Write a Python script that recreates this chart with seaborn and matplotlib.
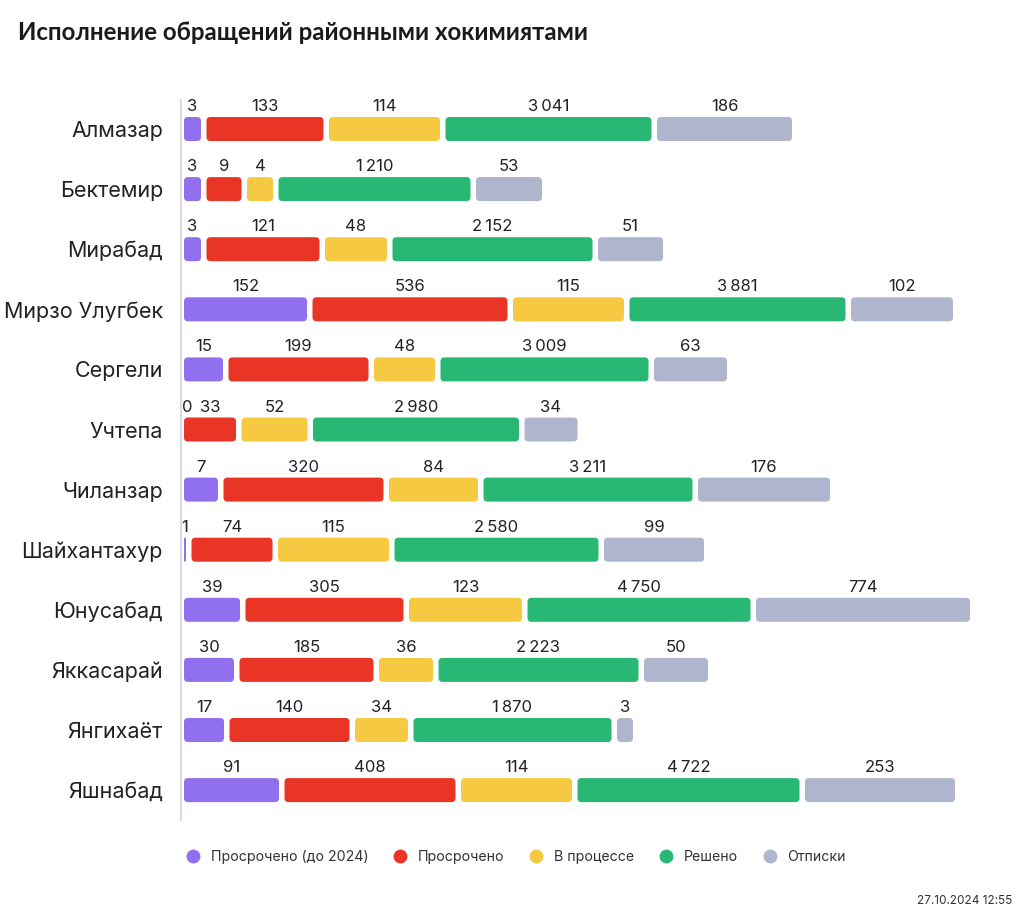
import numpy as np
import matplotlib
matplotlib.use("Agg")
import matplotlib.pyplot as plt
import seaborn as sns
from matplotlib.patches import FancyBboxPatch
from matplotlib.lines import Line2D

# ---------------- data ----------------
districts = ["Алмазар", "Бектемир", "Мирабад", "Мирзо Улугбек", "Сергели", "Учтепа",
             "Чиланзар", "Шайхантахур", "Юнусабад", "Яккасарай", "Янгихаёт", "Яшнабад"]
series_names = ["Просрочено (до 2024)", "Просрочено", "В процессе", "Решено", "Отписки"]

# values shown as labels
overdue_old = [3, 3, 3, 152, 15, 0, 7, 1, 39, 30, 17, 91]
overdue = [133, 9, 121, 536, 199, 33, 320, 74, 305, 185, 140, 408]
in_progress = [114, 4, 48, 115, 48, 52, 84, 115, 123, 36, 34, 114]
solved = [3041, 1210, 2152, 3881, 3009, 2980, 3211, 2580, 4750, 2223, 1870, 4722]
replies = [186, 53, 51, 102, 63, 34, 176, 99, 774, 50, 3, 253]

# displayed bar lengths (chart units)
len_overdue_old = [17, 17, 17, 123, 39, 0, 34, 2, 56, 50, 40, 95]
len_overdue = [117, 35, 113, 195, 140, 52, 160, 81, 158, 134, 120, 171]
len_in_progress = [111, 26, 62, 111, 61, 66, 89, 111, 113, 54, 53, 111]
len_solved = [206, 192, 200, 216, 208, 206, 209, 204, 223, 200, 198, 222]
len_replies = [135, 66, 65, 102, 73, 53, 132, 100, 214, 64, 16, 150]

colors = ["#9170F0", "#E83526", "#F5CA42", "#28B874", "#B0B5CE"]

values = [overdue_old, overdue, in_progress, solved, replies]
lengths = [len_overdue_old, len_overdue, len_in_progress, len_solved, len_replies]

# ---------------- style ----------------
sns.set_theme(style="white")
plt.rcParams["font.family"] = ["Inter", "DejaVu Sans"]

W, H = 1024, 916
fig = plt.figure(figsize=(W / 100, H / 100), dpi=100)

# axes placement (pixel based)
ax_left_px, ax_right_px = 181, 1000
ax_top_px, ax_bot_px = 90, 820
ax = fig.add_axes([ax_left_px / W, (H - ax_bot_px) / H,
                   (ax_right_px - ax_left_px) / W, (ax_bot_px - ax_top_px) / H])

row0, pitch = 129, 60.1
x0 = 184 - ax_left_px
ax.set_xlim(-x0, ax_right_px - ax_left_px - x0)
ax.set_ylim((ax_bot_px - row0) / pitch, (ax_top_px - row0) / pitch)

gap = 5.5
bar_h = 24 / pitch
ypos = np.arange(len(districts))

def fmt(v):
    return f"{v:,}".replace(",", "\u202f")

for i in range(len(districts)):
    left = 0.0
    for s in range(len(series_names)):
        L = lengths[s][i]
        v = values[s][i]
        if L > 0:
            bars = ax.barh(ypos[i], L, left=left, height=bar_h, color=colors[s])
            rect = bars[0]
            rect.set_visible(False)
            rr = min(4.0, L / 2)
            p = FancyBboxPatch((rect.get_x(), rect.get_y()), rect.get_width(), rect.get_height(),
                               boxstyle=f"round,pad=0,rounding_size={rr}",
                               mutation_aspect=1 / pitch,
                               facecolor=colors[s], edgecolor="none", zorder=3)
            ax.add_patch(p)
            cx = left + L / 2
        else:
            cx = left + 3
        ax.text(cx, ypos[i] - 18 / pitch, fmt(v), ha="center", va="baseline",
                fontsize=12, color="#222222", family=["Inter", "DejaVu Sans"])
        if L > 0:
            left += L + gap

for sp in ["top", "right", "bottom"]:
    ax.spines[sp].set_visible(False)
ax.spines["left"].set_color("#D9DCE6")
ax.spines["left"].set_linewidth(1.5)
ax.spines["left"].set_bounds((100 - row0) / pitch, (820 - row0) / pitch)
ax.set_xticks([])
ax.set_yticks(ypos)
ax.set_yticklabels(districts, fontsize=15.5, color="#222222")
ax.tick_params(axis="y", length=0, pad=13)
ax.grid(False)

# title
fig.text(18 / W, 1 - 32 / H, "Исполнение обращений районными хокимиятами",
         fontsize=17.3, fontweight="bold", color="#1a1a1a", va="center", ha="left",
         family=["Lato", "DejaVu Sans"])

# legend
handles = [Line2D([0], [0], marker="o", linestyle="none", markersize=10,
                  markerfacecolor=c, markeredgecolor="none") for c in colors]
fig.legend(handles, series_names, loc="center left",
           bbox_to_anchor=(166 / W, 1 - 857 / H), ncol=5, frameon=False,
           fontsize=10.2, handletextpad=0.25, columnspacing=1.25, labelcolor="#333333")

# timestamp
fig.text(1012 / W, 1 - 901 / H, "27.10.2024 12:55", fontsize=8.5, color="#333333",
         ha="right", va="center")

fig.savefig("out.png", dpi=100, facecolor="white")
